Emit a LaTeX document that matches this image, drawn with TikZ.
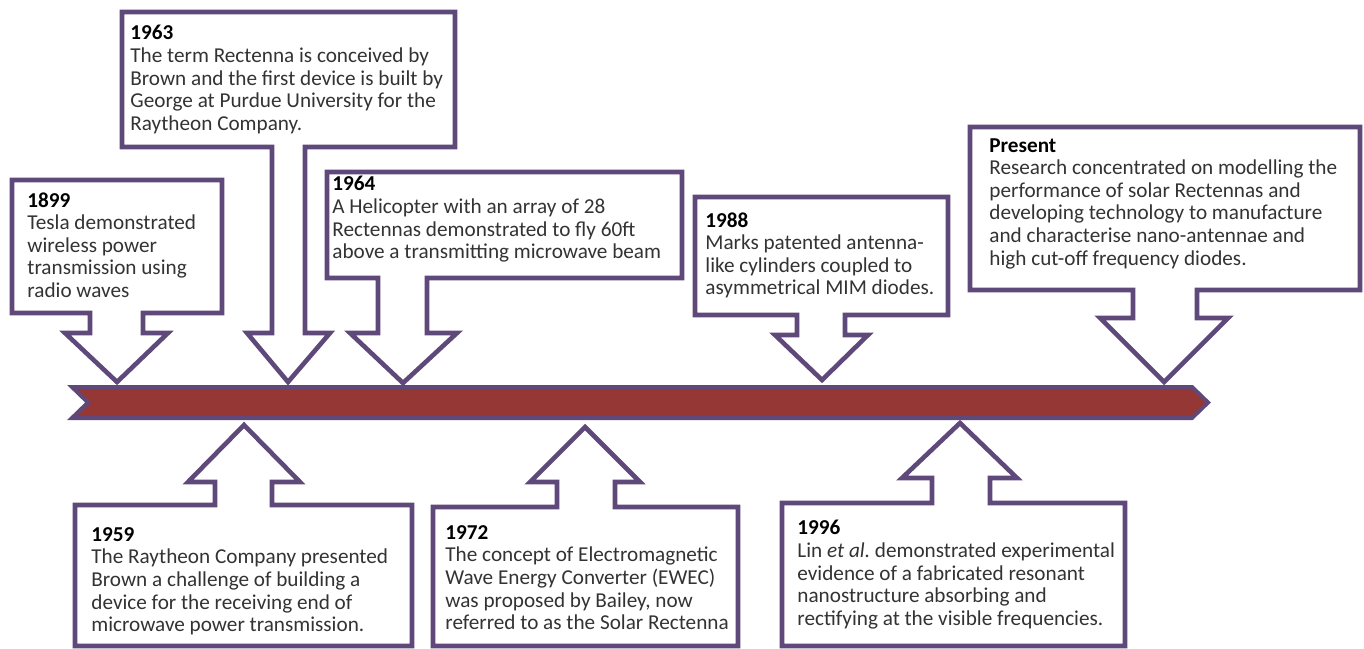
\documentclass[tikz,border=0pt]{standalone}
\usepackage{fontspec}
\setmainfont{Carlito}
\usepackage{tikz}
\usepackage{xcolor}
\definecolor{tlpurple}{HTML}{5F497A}
\definecolor{tlred}{HTML}{953735}
\definecolor{tltext}{HTML}{333333}
\newcommand{\yr}[1]{\textbf{\color{black}#1}}
\frenchspacing
\tikzset{
  callout/.style={draw=tlpurple, line width=2.3pt, fill=white, line join=miter},
  timebar/.style={draw=tlpurple, line width=2pt, fill=tlred, line join=miter},
  entry/.style={anchor=north west, inner sep=0pt, align=left, text=tltext,
    font=\fontsize{10.6}{11.3}\selectfont},
}

\begin{document}
\begin{tikzpicture}[x=0.5pt,y=-0.5pt]
\useasboundingbox (0,0) rectangle (1364,648);
\draw[timebar] (72,387) -- (1192,387) -- (1208,402.5) -- (1192,418) -- (72,418) -- (88,402.5) -- cycle;
% callouts above the bar
\draw[callout] (12,180) -- (222,180) -- (222,313) -- (143,313) -- (143,333) -- (168,333) -- (117,382) -- (65,333) -- (90,333) -- (90,313) -- (12,313) -- cycle;
\draw[callout] (122,12) -- (455,12) -- (455,147) -- (305,147) -- (305,333) -- (330,333) -- (288,382) -- (247,333) -- (272,333) -- (272,147) -- (122,147) -- cycle;
\draw[callout] (327,172) -- (682,172) -- (682,278) -- (427,278) -- (427,333) -- (457,333) -- (403,383) -- (350,333) -- (378,333) -- (378,278) -- (327,278) -- cycle;
\draw[callout] (695,197) -- (948,197) -- (948,315) -- (845,315) -- (845,335) -- (868,335) -- (822,380) -- (775,335) -- (797,335) -- (797,315) -- (695,315) -- cycle;
\draw[callout] (970,127) -- (1360,127) -- (1360,290) -- (1197,290) -- (1197,318) -- (1228,318) -- (1164,382) -- (1100,318) -- (1133,318) -- (1133,290) -- (970,290) -- cycle;
% callouts below the bar
\draw[callout] (75,646) -- (75,505) -- (215,505) -- (215,482) -- (188,482) -- (244,425) -- (300,482) -- (272,482) -- (272,505) -- (412,505) -- (412,646) -- cycle;
\draw[callout] (433,646) -- (433,507) -- (557,507) -- (557,482) -- (530,482) -- (585,427) -- (640,482) -- (615,482) -- (615,507) -- (738,507) -- (738,646) -- cycle;
\draw[callout] (782,646) -- (782,503) -- (932,503) -- (932,478) -- (902,478) -- (960,423) -- (1017,478) -- (990,478) -- (990,503) -- (1125,503) -- (1125,646) -- cycle;
% texts
\node[entry] (e1899) at (27,192) {\yr{1899}\\Tesla demonstrated\\wireless power\\transmission using\\radio waves};
\node[entry] (e1963) at (130,25) {\yr{1963}\\The term Rectenna is conceived by\\Brown and the first device is built by\\George at Purdue University for the\\Raytheon Company.};
\node[entry] (e1964) at (332,176) {\yr{1964}\\A Helicopter with an array of 28\\Rectennas demonstrated to fly 60ft\\above a transmitting microwave beam};
\node[entry] (e1988) at (705,212) {\yr{1988}\\Marks patented antenna-\\like cylinders coupled to\\asymmetrical MIM diodes.};
\node[entry] (epresent) at (989,138) {\yr{Present}\\Research concentrated on modelling the\\performance of solar Rectennas and\\developing technology to manufacture\\and characterise nano-antennae and\\high cut-off frequency diodes.};
\node[entry] (e1959) at (91,527) {\yr{1959}\\The Raytheon Company presented\\Brown a challenge of building a\\device for the receiving end of\\microwave power transmission.};
\node[entry] (e1972) at (445,525) {\yr{1972}\\The concept of Electromagnetic\\Wave Energy Converter (EWEC)\\was proposed by Bailey, now\\referred to as the Solar Rectenna};
\node[entry] (e1996) at (797,520) {\yr{1996}\\Lin \textit{et al.}\ demonstrated experimental\\evidence of a fabricated resonant\\nanostructure absorbing and\\rectifying at the visible frequencies.};
\end{tikzpicture}
\end{document}
